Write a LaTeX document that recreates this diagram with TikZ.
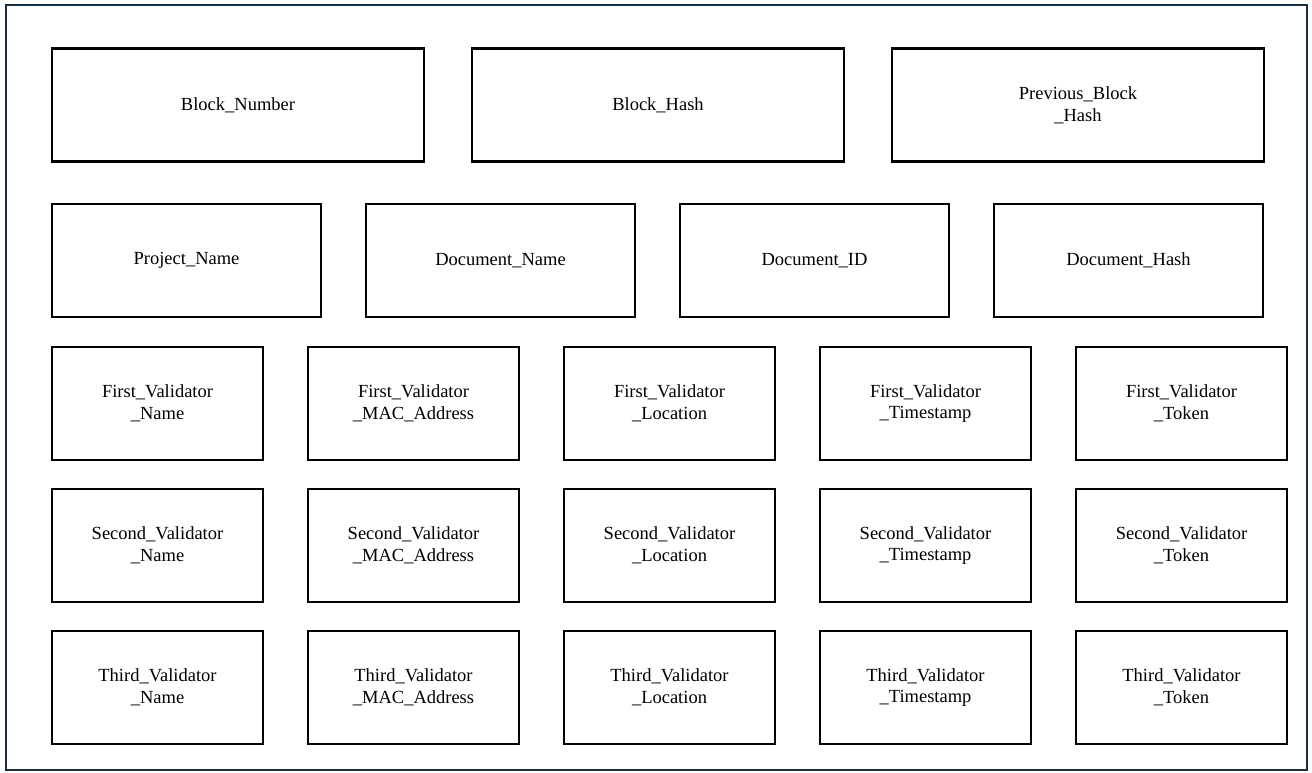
\documentclass[tikz,border=0pt]{standalone}
\usepackage{fontspec}
\setmainfont{Liberation Serif}
\newfontfamily\boxfont{Liberation Serif}
\usepackage{tikz}
\definecolor{framenavy}{RGB}{24,48,66}
\tikzset{
    every node/.style={font=\boxfont\fontsize{18.5}{21.7}\selectfont, align=center},
    field/.style={rectangle, draw=black, line width=2.2pt, minimum height=113pt, inner sep=0pt},
    wide/.style={field, minimum width=372pt},
    mid/.style={field, minimum width=269pt},
    narrow/.style={field, minimum width=211pt}
}

\begin{document}
\begin{tikzpicture}[x=1pt, y=-1pt]
	\useasboundingbox (0,0) rectangle (1312,772);
	\draw [framenavy, line width=2.4pt] (6,5) rectangle (1307,770);

	\node (blocknum) [wide] at (238, 105) {Block\_Number};
	\node (blockhash) [wide] at (658, 105) {Block\_Hash};
	\node (prevhash) [wide] at (1078, 105) {Previous\_Block\\\_Hash};

	\node (project) [mid] at (186.5, 260.5) {Project\_Name};
	\node (docname) [mid] at (500.5, 260.5) {Document\_Name};
	\node (docid) [mid] at (814.5, 260.5) {Document\_ID};
	\node (dochash) [mid] at (1128.5, 260.5) {Document\_Hash};

	\node (fname) [narrow] at (157.5, 403.5) {First\_Validator\\\_Name};
	\node (fmac) [narrow] at (413.5, 403.5) {First\_Validator\\\_MAC\_Address};
	\node (floc) [narrow] at (669.5, 403.5) {First\_Validator\\\_Location};
	\node (ftime) [narrow] at (925.5, 403.5) {First\_Validator\\\_Timestamp};
	\node (ftoken) [narrow] at (1181.5, 403.5) {First\_Validator\\\_Token};

	\node (sname) [narrow] at (157.5, 545.5) {Second\_Validator\\\_Name};
	\node (smac) [narrow] at (413.5, 545.5) {Second\_Validator\\\_MAC\_Address};
	\node (sloc) [narrow] at (669.5, 545.5) {Second\_Validator\\\_Location};
	\node (stime) [narrow] at (925.5, 545.5) {Second\_Validator\\\_Timestamp};
	\node (stoken) [narrow] at (1181.5, 545.5) {Second\_Validator\\\_Token};

	\node (tname) [narrow] at (157.5, 687.5) {Third\_Validator\\\_Name};
	\node (tmac) [narrow] at (413.5, 687.5) {Third\_Validator\\\_MAC\_Address};
	\node (tloc) [narrow] at (669.5, 687.5) {Third\_Validator\\\_Location};
	\node (ttime) [narrow] at (925.5, 687.5) {Third\_Validator\\\_Timestamp};
	\node (ttoken) [narrow] at (1181.5, 687.5) {Third\_Validator\\\_Token};
\end{tikzpicture}
\end{document}
